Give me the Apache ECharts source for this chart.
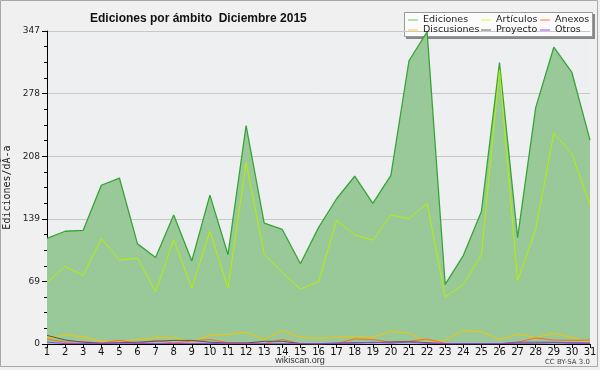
<!DOCTYPE html>
<html><head><meta charset="utf-8">
<script src="https://cdn.jsdelivr.net/npm/echarts@6/dist/echarts.min.js"></script>
<style>html,body{margin:0;padding:0;background:#f0f0f0}#c{width:600px;height:370px}</style>
</head><body><div id="c"></div>
<script>
const days = ['1','2','3','4','5','6','7','8','9','10','11','12','13','14','15','16','17','18','19','20','21','22','23','24','25','26','27','28','29','30','31'];
const yTicks = [0, 69, 139, 208, 278, 347];
const ediciones = [117,125,126,176,184,111,96,143,92,165,99,242,134,127,89,129,161,186,156,187,314,346,66,98,147,312,118,262,329,301,226];
const articulos = [68,86,76,117,93,95,58,116,62,125,62,201,100,79,61,69,137,121,115,143,139,156,52,66,99,304,70,127,234,211,154];
const discusiones = [6.3,10,8,3,2,5,7,7,2,9.6,10.7,13,5,15,7.4,6.3,7.4,8.5,7.4,14,12.2,2,4,15,13.7,5,11,7.4,11.8,7.4,1.5];
const anexos = [5.5,2,2.6,1,4,0.7,4,1,3.3,5,1.5,1.5,0.4,5,0.4,0,0.7,5.5,5,2,3,5.5,0.7,0.4,0.4,0.4,2,6.7,4.4,4,4.4];
const proyecto = [9.6,4.4,2,0.7,1.5,2,3,4,4,2,1,1,3,3,0.4,0.4,1,1.5,1.5,2.2,2.6,1.5,0.4,0.4,0.4,0.4,1,1,1.5,1,0.7];
const otros = [2.2,0.4,0.4,0.4,1,0.7,0.5,0.5,0.5,0.7,0.3,0.3,0.3,0.3,0.3,0.3,0.4,1,2,1,2.2,0.7,0.3,0.3,0.3,0.3,2,2,2,1.5,1];

const F = 'DejaVu Sans';
const col = {Ediciones:'#38a438', 'Artículos':'#b6f000', Anexos:'#ff6a1a', Discusiones:'#f5c400', Proyecto:'#555555', Otros:'#9a3cff'};
const legCol = {Ediciones:'#66cc66', 'Artículos':'#ccff33', Anexos:'#ff7733', Discusiones:'#ffcc33', Proyecto:'#666666', Otros:'#9944ff'};
const ymax = yTicks[yTicks.length-1];
const chart = echarts.init(document.getElementById('c'), null, {renderer:'canvas'});
function lineSeries(name, data, extra){
  return Object.assign({name, type:'line', data, symbol:'none', animation:false,
    lineStyle:{color:col[name], width:1}, itemStyle:{color:legCol[name]}}, extra||{});
}
function leg(names, left){
  return {data:names, orient:'vertical', left, top:15, itemGap:0, itemWidth:10, itemHeight:1, z:20,
    icon:'rect', textStyle:{fontFamily:F, fontSize:9.5, lineHeight:10, color:'#222'}, selectedMode:false, padding:0};
}
chart.setOption({
  backgroundColor:'#f0f0f0',
  animation:false,
  title:{text:'Ediciones por ámbito  Diciembre 2015', left:85, top:8,
    textStyle:{fontFamily:'Liberation Sans', fontSize:12, fontWeight:'bold', color:'#111'}},
  legend:[leg(['Ediciones','Discusiones'],408), leg(['Artículos','Proyecto'],481), leg(['Anexos','Otros'],540)],
  grid:{left:47, right:10, top:31, bottom:26, show:true, backgroundColor:'#eeeff1', borderWidth:0, containLabel:false, outerBoundsMode:'none'},
  xAxis:{type:'category', data:days, boundaryGap:false,
    axisLine:{lineStyle:{color:'#000'}}, axisTick:{show:true, length:4, lineStyle:{color:'#000'}, interval:0},
    axisLabel:{fontFamily:F, fontSize:10, color:'#111', margin:3, interval:0}, splitLine:{show:false}},
  yAxis:{type:'value', min:0, max:ymax, interval:ymax/5,
    name:'Ediciones/dÃ-a', nameLocation:'middle', nameGap:34, nameRotate:90,
    nameTextStyle:{fontFamily:'DejaVu Sans Mono', fontSize:10, color:'#222'},
    axisLine:{show:true, lineStyle:{color:'#000'}}, axisTick:{show:true, length:5, lineStyle:{color:'#000'}},
    minorTick:{show:true, splitNumber:4, length:3, lineStyle:{color:'#000'}},
    axisLabel:{fontFamily:F, fontSize:9, color:'#222', margin:7,
      formatter:v=>String(yTicks[Math.round(v/(ymax/5))])},
    splitLine:{show:true, lineStyle:{color:'#c8c8c8', width:1}}},
  graphic:{z:1, elements:[
    {type:'rect', shape:{x:0.5,y:0.5,width:597,height:366}, style:{fill:'none', stroke:'#a8a8a8', lineWidth:1}, silent:true},
    {type:'rect', shape:{x:406,y:14,width:189,height:25}, style:{fill:'#888'}},
    {type:'rect', shape:{x:404.5,y:12.5,width:188,height:24}, style:{fill:'#fbfbfb', stroke:'#999', lineWidth:1}},
    {type:'text', style:{text:'wikiscan.org', x:300, y:356, fill:'#333', font:'9px Liberation Sans', textAlign:'center'}},
    {type:'text', style:{text:'CC BY-SA 3.0', x:590, y:359, fill:'#444', font:'7px '+F, textAlign:'right'}}
  ]},
  series:[
    lineSeries('Ediciones', ediciones, {lineStyle:{color:col.Ediciones, width:1.3}, areaStyle:{color:'#99c999', opacity:1}, z:2}),
    lineSeries('Artículos', articulos, {z:3}),
    lineSeries('Discusiones', discusiones, {z:4}),
    lineSeries('Anexos', anexos, {z:4}),
    lineSeries('Proyecto', proyecto, {z:4}),
    lineSeries('Otros', otros, {z:4})
  ]
});
</script></body></html>
